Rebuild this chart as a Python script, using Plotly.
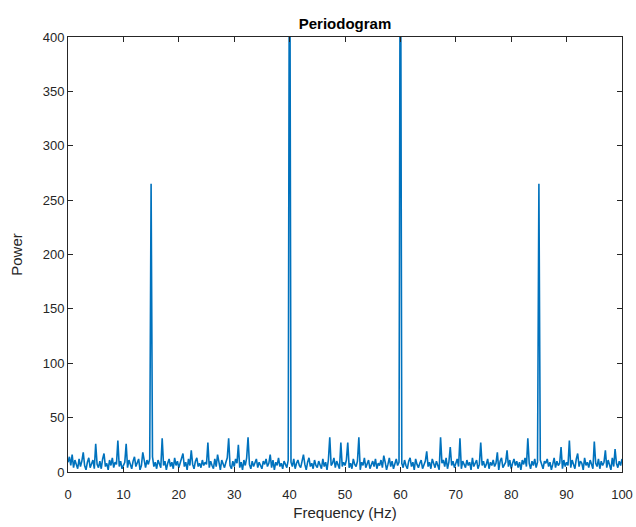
import numpy as np
import plotly.graph_objects as go

# Frequency grid: 0 to 100 Hz in 0.25 Hz steps
freq_step = 0.25
freq_max = 100

# Power spectrum estimate, 20 bins (5 Hz) per row
power = [
    9, 14, 6, 16, 4, 11, 7, 3, 12, 5, 10, 18, 6, 2, 9, 13, 4, 8, 11, 3,
    26, 7, 4, 10, 3, 12, 17, 5, 8, 2, 11, 6, 13, 4, 9, 7, 29, 5, 10, 3,
    6, 9, 26, 4, 11, 7, 3, 10, 14, 5, 8, 12, 2, 6, 18, 9, 4, 11, 7, 12,
    265, 14, 5, 9, 3, 11, 7, 4, 31, 6, 10, 2, 8, 12, 5, 9, 3, 13, 6, 10,
    4, 8, 11, 17, 5, 9, 2, 12, 6, 20, 7, 3, 10, 13, 5, 8, 4, 11, 6, 9,
    7, 27, 4, 10, 6, 3, 12, 5, 16, 8, 2, 11, 7, 4, 9, 13, 31, 6, 3, 10,
    5, 12, 8, 25, 4, 9, 2, 11, 6, 13, 32, 7, 3, 10, 5, 8, 12, 4, 9, 6,
    3, 10, 7, 12, 5, 8, 16, 4, 11, 2, 9, 6, 13, 5, 8, 3, 10, 7, 4, 11,
    600, 9, 5, 12, 3, 8, 11, 6, 4, 10, 16, 7, 2, 9, 13, 5, 8, 3, 11, 6,
    4, 10, 7, 3, 12, 5, 9, 2, 11, 32, 6, 8, 13, 4, 10, 7, 3, 27, 5, 9,
    6, 11, 27, 4, 8, 3, 12, 7, 5, 10, 32, 2, 9, 6, 13, 4, 8, 11, 3, 7,
    10, 5, 12, 3, 8, 6, 11, 4, 15, 9, 2, 7, 13, 5, 10, 3, 8, 12, 6, 9,
    600, 8, 4, 11, 6, 3, 10, 13, 5, 9, 2, 12, 7, 4, 8, 11, 3, 6, 10, 19,
    5, 9, 3, 12, 7, 4, 10, 6, 2, 32, 8, 11, 5, 13, 3, 9, 23, 6, 10, 4,
    8, 12, 5, 31, 3, 10, 7, 4, 11, 6, 9, 2, 13, 5, 8, 11, 3, 7, 27, 6,
    10, 4, 7, 12, 3, 9, 6, 11, 5, 8, 18, 2, 10, 13, 4, 7, 9, 20, 5, 11,
    3, 8, 12, 6, 10, 4, 9, 2, 11, 7, 13, 5, 31, 8, 3, 10, 6, 12, 4, 9,
    265, 11, 6, 3, 10, 8, 12, 5, 9, 2, 7, 13, 4, 10, 6, 8, 23, 3, 11, 5,
    9, 6, 29, 4, 11, 7, 3, 12, 17, 5, 10, 8, 2, 13, 6, 9, 4, 11, 7, 3,
    28, 8, 5, 12, 3, 10, 6, 9, 20, 4, 11, 7, 2, 13, 5, 21, 8, 4, 10, 6,
    12,
]

freq = np.arange(len(power)) * freq_step

x_ticks = list(range(0, 101, 10))
y_ticks = list(range(0, 401, 50))

axis_color = "#262626"
font_family = "Liberation Sans, Arial, sans-serif"

fig = go.Figure()
fig.add_trace(go.Scatter(
    x=freq,
    y=power,
    mode="lines",
    line=dict(color="#0072BD", width=1.6),
    hoverinfo="x+y",
    showlegend=False,
))

axis_common = dict(
    showline=True,
    linecolor=axis_color,
    linewidth=1,
    mirror="ticks",
    ticks="inside",
    ticklen=5,
    tickwidth=1,
    tickcolor=axis_color,
    showgrid=False,
    zeroline=False,
    automargin=False,
    tickfont=dict(family=font_family, size=13, color=axis_color),
)

fig.update_xaxes(
    range=[0, freq_max],
    tickvals=x_ticks,
    ticklabelstandoff=10,
    title=dict(text="Frequency (Hz)", font=dict(family=font_family, size=15, color=axis_color), standoff=6),
    **axis_common,
)
fig.update_yaxes(
    range=[0, 400],
    tickvals=y_ticks,
    title=dict(text="Power", font=dict(family=font_family, size=15, color=axis_color), standoff=16),
    **axis_common,
)

fig.update_layout(
    width=636,
    height=527,
    margin=dict(l=68, r=14, t=37, b=55),
    paper_bgcolor="white",
    plot_bgcolor="white",
    title=dict(
        text="<b>Periodogram</b>",
        x=0.5,
        xref="paper",
        xanchor="center",
        y=1,
        yref="paper",
        yanchor="bottom",
        pad=dict(b=8),
        font=dict(family=font_family, size=15, color="#000000"),
    ),
)

fig.write_html("out.html")
